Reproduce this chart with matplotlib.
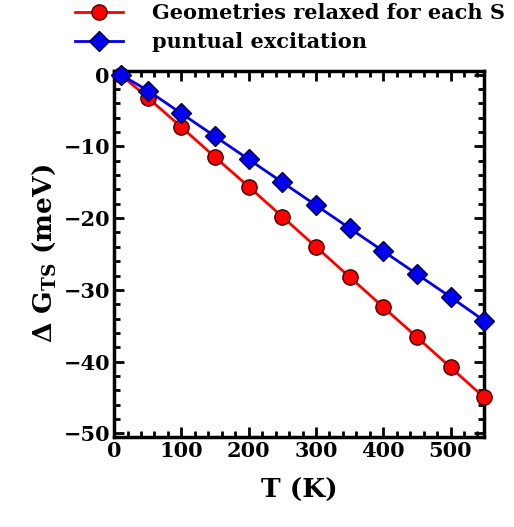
import numpy as np
import matplotlib.pyplot as plt
from matplotlib.ticker import MultipleLocator

T = [10, 50, 100, 150, 200, 250, 300, 350, 400, 450, 500, 550]
relaxed = [0.0, -3.2, -7.3, -11.5, -15.6, -19.8, -24.0, -28.2, -32.4, -36.6, -40.8, -45.0]
puntual = [0.0, -2.2, -5.4, -8.6, -11.8, -15.0, -18.2, -21.4, -24.6, -27.8, -31.0, -34.3]

plt.rcParams['font.family'] = ['DejaVu Serif']
plt.rcParams['font.weight'] = 'bold'
plt.rcParams['mathtext.fontset'] = 'dejavuserif'

fig = plt.figure(figsize=(5.14, 5.27), dpi=100)
ax = fig.add_axes([0.222, 0.171, 0.72, 0.694])

ax.plot(T, relaxed, '-o', color='red', lw=2, ms=11, mfc='red', mec='#400000', mew=1,
        label='Geometries relaxed for each S', clip_on=False, zorder=3)
ax.plot(T, puntual, '-D', color='#0000ee', lw=2, ms=10, mfc='#0000ee', mec='#000040', mew=1,
        label='puntual excitation', clip_on=False, zorder=3)

ax.set_xlim(0, 550)
ax.set_ylim(-50.5, 0.5)
ax.xaxis.set_major_locator(MultipleLocator(100))
ax.xaxis.set_minor_locator(MultipleLocator(20))
ax.yaxis.set_major_locator(MultipleLocator(10))
ax.yaxis.set_minor_locator(MultipleLocator(2))
ax.tick_params(which='both', direction='in', top=True, right=True, width=2, labelsize=15)
ax.tick_params(which='major', length=7, pad=3)
ax.tick_params(which='minor', length=4)
for s in ax.spines.values():
    s.set_linewidth(2.5)
for lab in ax.get_xticklabels() + ax.get_yticklabels():
    lab.set_fontweight('bold')

ax.set_xlabel('T (K)', fontsize=19, fontweight='bold', labelpad=12)
ax.set_ylabel(r'$\mathbf{\Delta}$ G$_{\mathbf{TS}}$ (meV)', fontsize=19, fontweight='bold', labelpad=4)

fig.legend(loc='upper left', bbox_to_anchor=(0.11, 1.03), frameon=False,
           prop={'size': 15, 'weight': 'bold'}, handlelength=2.3, handletextpad=1.4,
           labelspacing=0.45)

fig.savefig('out.png', dpi=100)
